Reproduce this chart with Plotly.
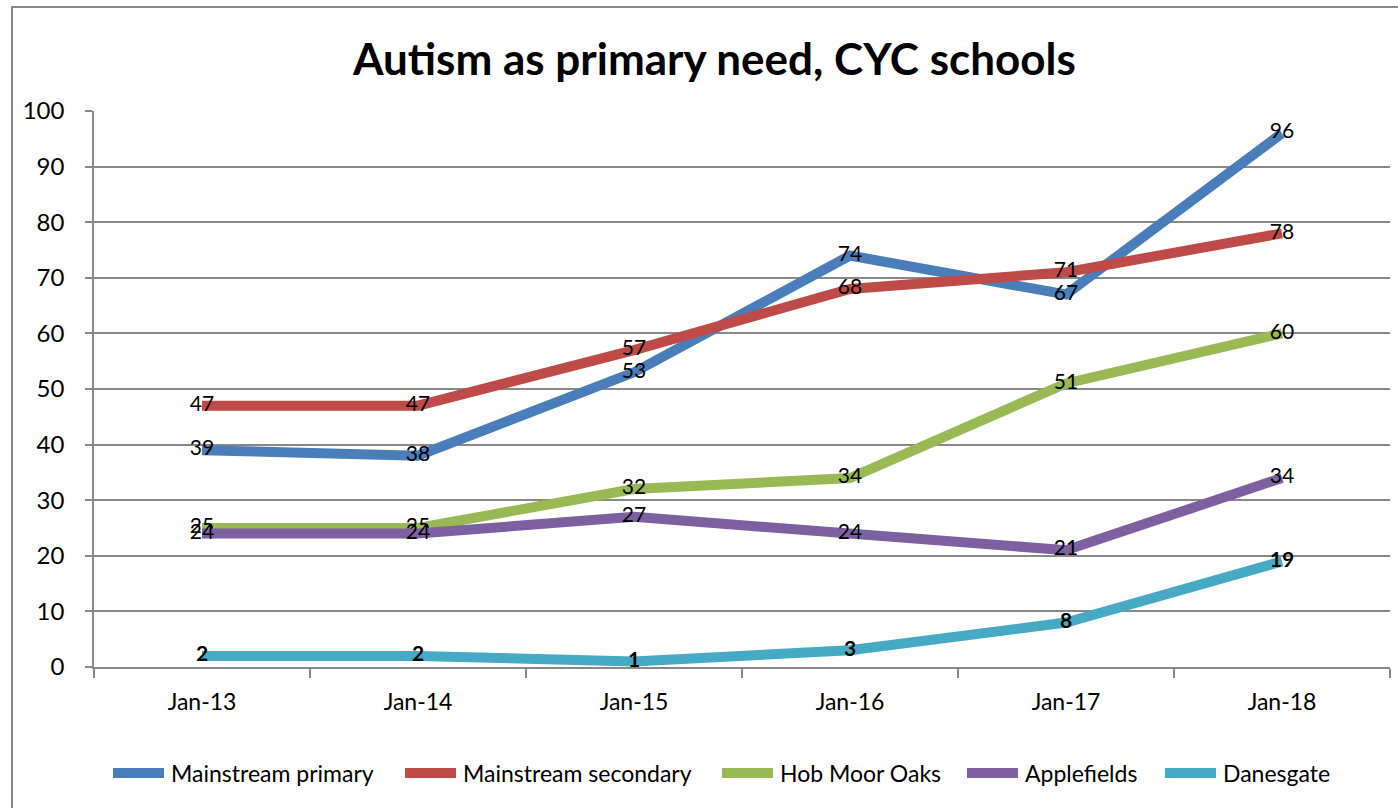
import plotly.graph_objects as go

categories = ["Jan-13", "Jan-14", "Jan-15", "Jan-16", "Jan-17", "Jan-18"]
mainstream_primary = [39, 38, 53, 74, 67, 96]
mainstream_secondary = [47, 47, 57, 68, 71, 78]
hob_moor_oaks = [25, 25, 32, 34, 51, 60]
applefields = [24, 24, 27, 24, 21, 34]
danesgate = [2, 2, 1, 3, 8, 19]

series = [
    ("Mainstream primary", mainstream_primary, "#4a7ebb", False),
    ("Mainstream secondary", mainstream_secondary, "#be4b48", False),
    ("Hob Moor Oaks", hob_moor_oaks, "#98b954", False),
    ("Applefields", applefields, "#7d60a0", False),
    ("Danesgate", danesgate, "#46aac5", True),
]

# legend key start positions (pixels from left of the page)
legend_x = [109, 401, 718, 963, 1161]
legend_y = 773
legend_key_len = 59

FONT = "Lato"
W, H = 1398, 808
L, R, T, B = 94, 8, 111, 141
PW, PH = W - L - R, H - T - B


def px_x(x):
    return (x - L) / PW


def px_y(y):
    return (H - B - y) / PH


fig = go.Figure()
for name, vals, color, bold in series:
    fig.add_trace(go.Scatter(
        x=categories, y=vals, name=name, mode="lines+text",
        line=dict(color=color, width=10),
        text=[str(v) for v in vals],
        texttemplate="<b>%{text}</b>" if bold else "%{text}",
        textposition="middle center",
        textfont=dict(family=FONT, size=21, color="black"),
        cliponaxis=False, showlegend=False,
    ))

# legend drawn as keys + labels
for (name, vals, color, bold), lx in zip(series, legend_x):
    fig.add_shape(type="line", xref="paper", yref="paper",
                  x0=px_x(lx + 4), x1=px_x(lx + legend_key_len - 4),
                  y0=px_y(legend_y), y1=px_y(legend_y),
                  line=dict(color=color, width=10))
    fig.add_annotation(xref="paper", yref="paper",
                       x=px_x(lx + legend_key_len + 1), y=px_y(legend_y),
                       text=name, showarrow=False, xanchor="left", yanchor="middle",
                       font=dict(family=FONT, size=23, color="black"))

fig.update_layout(
    width=W, height=H,
    paper_bgcolor="white", plot_bgcolor="white",
    margin=dict(l=L, r=R, t=T, b=B, autoexpand=False),
    title=dict(text="<b>Autism as primary need, CYC schools</b>",
               x=0.511, xref="container", y=(H - 60) / H, yref="container",
               xanchor="center", yanchor="middle",
               font=dict(family=FONT, size=44, color="black")),
    font=dict(family=FONT, color="black"),
    xaxis=dict(type="category", tickson="boundaries", ticks="outside", ticklen=9,
               tickcolor="#888888", tickwidth=1.5,
               showline=True, linecolor="#888888", linewidth=1.5,
               showgrid=False, range=[-0.5, 5.5], ticklabelstandoff=14,
               tickfont=dict(family=FONT, size=23, color="black")),
    yaxis=dict(range=[0, 100], dtick=10, ticks="outside", ticklen=7,
               tickcolor="#888888", tickwidth=1.5,
               showline=True, linecolor="#888888", linewidth=1.5,
               showgrid=True, gridcolor="#888888", gridwidth=1.5,
               zeroline=False, ticklabelstandoff=16,
               tickfont=dict(family=FONT, size=24, color="black")),
    showlegend=False,
)

fig.add_shape(type="rect", xref="paper", yref="paper",
              x0=px_x(12), x1=1.02,
              y0=-0.3, y1=px_y(7),
              line=dict(color="#888888", width=2), fillcolor="rgba(0,0,0,0)",
              layer="below")

fig.write_html("out.html", config={"displayModeBar": False},
               post_script="document.body.style.margin='0';document.body.style.padding='0';")
